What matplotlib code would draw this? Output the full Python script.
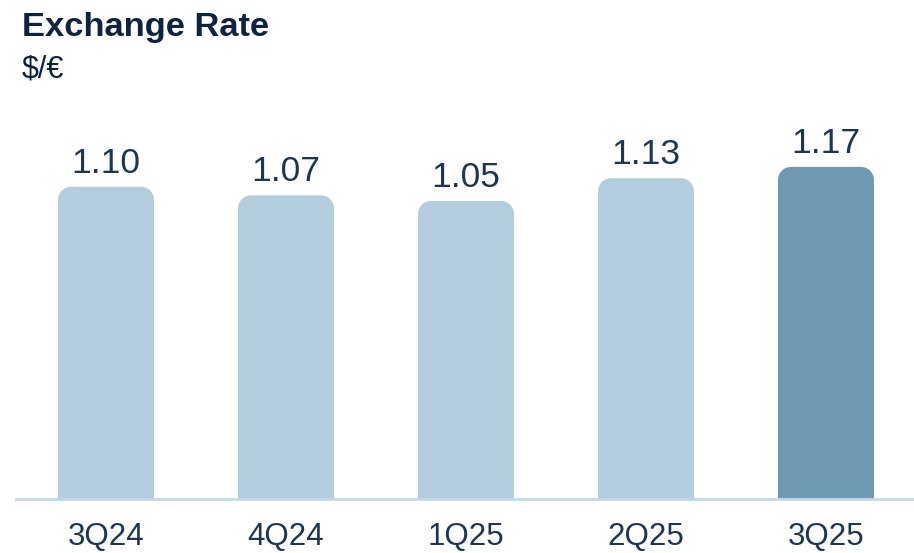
import matplotlib.pyplot as plt
from matplotlib.patches import PathPatch
from matplotlib.path import Path

plt.rcParams['font.family'] = ['Liberation Sans', 'DejaVu Sans']

quarters = ['3Q24', '4Q24', '1Q25', '2Q25', '3Q25']
rates = [1.10, 1.07, 1.05, 1.13, 1.17]
bar_colors = ['#b3cddf', '#b3cddf', '#b3cddf', '#b3cddf', '#6f98b3']

text_color = '#1c3653'
title_color = '#0d2340'


def rounded_top(ax, x0, width, height, rx, ry, color):
    # bar with the two top corners rounded, in data coordinates
    x1 = x0 + width
    k = 0.5523
    verts = [
        (x0, 0), (x1, 0), (x1, height - ry),
        (x1, height - ry + k * ry), (x1 - rx + k * rx, height), (x1 - rx, height),
        (x0 + rx, height),
        (x0 + rx - k * rx, height), (x0, height - ry + k * ry), (x0, height - ry),
        (x0, 0), (x0, 0),
    ]
    codes = [Path.MOVETO, Path.LINETO, Path.LINETO,
             Path.CURVE4, Path.CURVE4, Path.CURVE4,
             Path.LINETO,
             Path.CURVE4, Path.CURVE4, Path.CURVE4,
             Path.LINETO, Path.CLOSEPOLY]
    ax.add_patch(PathPatch(Path(verts, codes), facecolor=color, edgecolor='none', zorder=2))


fig = plt.figure(figsize=(9.14, 5.53), dpi=100)
ax = fig.add_axes([16 / 914, 54 / 553, 898 / 914, 369 / 553])

positions = range(len(quarters))
bars = ax.bar(positions, rates, width=0.533, color='none')
ax.set_xlim(-0.5, 4.489)
ax.set_ylim(0, 1.3)

# corner radius ~13px converted to data units
rx = 13 / 180
ry = 13 * 1.3 / 369
for bar, color, val in zip(bars, bar_colors, rates):
    rounded_top(ax, bar.get_x(), bar.get_width(), bar.get_height(), rx, ry, color)
    ax.annotate(f'{val:.2f}', (bar.get_x() + bar.get_width() / 2, val),
                xytext=(0, 5), textcoords='offset points', ha='center', va='bottom',
                fontsize=25.5, color=text_color)

ax.set_xticks(list(positions))
ax.set_xticklabels(quarters, fontsize=22.5, color=text_color)
ax.tick_params(axis='x', length=0, pad=16.5)
ax.set_yticks([])
for side in ['top', 'right', 'left']:
    ax.spines[side].set_visible(False)
ax.spines['bottom'].set_color('#bfdaf0')
ax.spines['bottom'].set_linewidth(2)
ax.spines['bottom'].set_zorder(3)

fig.text(22 / 914, 1 - 36 / 553, 'Exchange Rate', fontsize=24.8, fontweight='bold',
         color=title_color, va='baseline')
fig.text(22 / 914, 1 - 78 / 553, '$/€', fontsize=22, color=title_color, va='baseline')

fig.savefig('out.png', dpi=100)
